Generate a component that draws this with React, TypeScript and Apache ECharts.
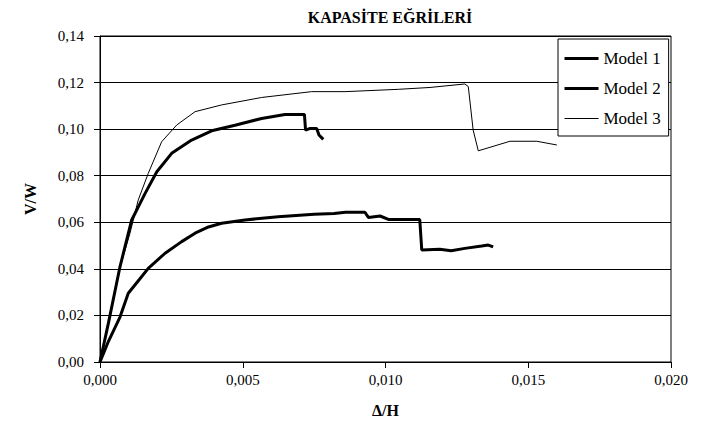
import React, { useEffect, useRef } from "react";
import * as echarts from "echarts";

const title = "KAPASİTE EĞRİLERİ";
const xName = "Δ/H";
const yName = "V/W";
const seriesNames = ["Model 1", "Model 2", "Model 3"];

const model1X = [0, 0.0003, 0.0007, 0.00099, 0.00135, 0.00169, 0.00228, 0.00286, 0.00333, 0.0038, 0.00426, 0.00508, 0.00624, 0.0075, 0.0082, 0.0086, 0.00928, 0.0094, 0.00981, 0.0101, 0.0112, 0.01127, 0.0119, 0.0123, 0.01278, 0.01337, 0.0136, 0.01377];
const model1Y = [0, 0.009, 0.0193, 0.0295, 0.035, 0.0402, 0.0467, 0.0517, 0.0553, 0.058, 0.0596, 0.061, 0.0624, 0.0635, 0.0638, 0.0643, 0.0643, 0.0621, 0.0627, 0.0612, 0.0612, 0.0481, 0.0484, 0.0478, 0.0488, 0.0498, 0.0502, 0.0494];

const model2X = [0, 0.0003, 0.0007, 0.00111, 0.00158, 0.00199, 0.00251, 0.00321, 0.00391, 0.00473, 0.00566, 0.00648, 0.00716, 0.0072, 0.00736, 0.00759, 0.00767, 0.00782];
const model2Y = [0, 0.017, 0.0409, 0.061, 0.0724, 0.0817, 0.0896, 0.0953, 0.0993, 0.1017, 0.1046, 0.1063, 0.1063, 0.0996, 0.1003, 0.1003, 0.0975, 0.0956];

const model3X = [0, 0.00064, 0.00105, 0.00134, 0.00169, 0.00216, 0.00269, 0.00333, 0.00426, 0.00566, 0.00741, 0.00858, 0.01045, 0.01156, 0.01278, 0.0129, 0.01307, 0.01325, 0.01366, 0.01436, 0.0153, 0.016];
const model3Y = [0, 0.038, 0.0553, 0.0696, 0.081, 0.0946, 0.1018, 0.1075, 0.1104, 0.1136, 0.1161, 0.1161, 0.1171, 0.1179, 0.1194, 0.1183, 0.0996, 0.0907, 0.0922, 0.0948, 0.0948, 0.0932];

const lineWidths = [3, 3, 1];

const zip = (xs: number[], ys: number[]) => xs.map((x, i) => [x, ys[i]]);

const FONT = "Liberation Serif";

export default function App() {
  const ref = useRef<HTMLDivElement>(null);
  useEffect(() => {
    if (!ref.current) return;
    const chart = echarts.init(ref.current, null, { renderer: "svg" });
    const seriesData = [zip(model1X, model1Y), zip(model2X, model2Y), zip(model3X, model3Y)];
    chart.setOption({
      animation: false,
      backgroundColor: "#fff",
      textStyle: { fontFamily: FONT },
      title: {
        text: title,
        left: 385,
        textAlign: "center",
        top: 4,
        textStyle: { fontFamily: FONT, fontSize: 16, fontWeight: "bold", color: "#000" },
      },
      legend: {
        orient: "vertical",
        left: 558,
        top: 39,
        padding: [11, 8, 9, 5],
        itemGap: 13,
        itemWidth: 34,
        itemHeight: 14,
        backgroundColor: "#fff",
        borderColor: "#000",
        borderWidth: 1,
        data: seriesNames.map((name, i) => ({
          name,
          lineStyle: { color: "#000", width: lineWidths[i] },
        })),
        itemStyle: { opacity: 0 },
        textStyle: { fontFamily: FONT, fontSize: 17, color: "#000" },
      },
      grid: {
        left: 100,
        right: 44,
        top: 36,
        bottom: 84,
        show: true,
        borderColor: "#000",
        borderWidth: 1,
        backgroundColor: "transparent",
      },
      xAxis: {
        type: "value",
        min: 0,
        max: 0.02,
        interval: 0.005,
        name: xName,
        nameLocation: "middle",
        nameGap: 40,
        nameTextStyle: { fontFamily: FONT, fontSize: 16, fontWeight: "bold", color: "#000" },
        axisLine: { show: true, lineStyle: { color: "#000", width: 1 } },
        axisTick: { show: true, inside: false, length: 6, lineStyle: { color: "#000" } },
        axisLabel: {
          margin: 10,
          fontFamily: FONT,
          fontSize: 15,
          color: "#000",
          formatter: (v: number) => v.toFixed(3).replace(".", ","),
        },
        splitLine: { show: false },
      },
      yAxis: {
        type: "value",
        min: 0,
        max: 0.14,
        interval: 0.02,
        name: yName,
        nameLocation: "middle",
        nameGap: 62,
        nameRotate: 90,
        nameTextStyle: { fontFamily: FONT, fontSize: 16, fontWeight: "bold", color: "#000" },
        axisLine: { show: true, lineStyle: { color: "#000", width: 1 } },
        axisTick: { show: true, inside: false, length: 6, lineStyle: { color: "#000" } },
        axisLabel: {
          margin: 16,
          fontFamily: FONT,
          fontSize: 15,
          color: "#000",
          formatter: (v: number) => v.toFixed(2).replace(".", ","),
        },
        splitLine: { show: true, lineStyle: { color: "#000", width: 1 } },
      },
      series: seriesNames.map((name, i) => ({
        name,
        type: "line",
        data: seriesData[i],
        symbol: "none",
        lineStyle: { color: "#000", width: lineWidths[i] },
        itemStyle: { color: "#000" },
      })),
    });
    return () => chart.dispose();
  }, []);
  return (
    <div
      ref={ref}
      style={{ position: "fixed", left: 0, top: 0, width: 715, height: 446, background: "#fff" }}
    />
  );
}
